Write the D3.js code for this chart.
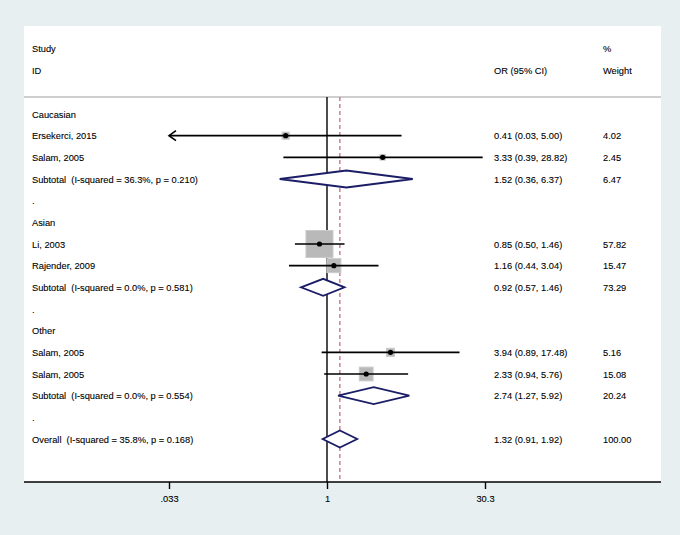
<!DOCTYPE html>
<html>
<head>
<meta charset="utf-8" />
<title></title>
<style>
html, body {
    padding: 0px;
    margin: 0px;
    background: #e8eff1;
}
svg text {
    font-family: "Liberation Sans", Arial, sans-serif;
    font-size: 9.3px;
    fill: #000;
    stroke: #000;
    stroke-width: 0.1px;
    white-space: pre;
}
</style>
</head>
<body>
<svg id="chart" width="680" height="535"></svg>
<script src="https://cdnjs.cloudflare.com/ajax/libs/d3/7.8.5/d3.min.js"></script>
<script>
!(function(){
    "use strict";

    var rowLabels = [
        "Caucasian", "Ersekerci, 2015", "Salam, 2005",
        "Subtotal  (I-squared = 36.3%, p = 0.210)", ".",
        "Asian", "Li, 2003", "Rajender, 2009",
        "Subtotal  (I-squared = 0.0%, p = 0.581)", ".",
        "Other", "Salam, 2005", "Salam, 2005",
        "Subtotal  (I-squared = 0.0%, p = 0.554)", ".",
        "Overall  (I-squared = 35.8%, p = 0.168)"
    ];
    var rowTypes = [
        "group", "study", "study", "sub", "blank",
        "group", "study", "study", "sub", "blank",
        "group", "study", "study", "sub", "blank",
        "sub"
    ];
    var orValues = [null, 0.41, 3.33, 1.52, null, null, 0.85, 1.16, 0.92, null, null, 3.94, 2.33, 2.74, null, 1.32];
    var lowerCI  = [null, 0.03, 0.39, 0.36, null, null, 0.50, 0.44, 0.57, null, null, 0.89, 0.94, 1.27, null, 0.91];
    var upperCI  = [null, 5.00, 28.82, 6.37, null, null, 1.46, 3.04, 1.46, null, null, 17.48, 5.76, 5.92, null, 1.92];
    var weights  = [null, 4.02, 2.45, 6.47, null, null, 57.82, 15.47, 73.29, null, null, 5.16, 15.08, 20.24, null, 100.00];

    var tickValues = [1 / 30.3, 1, 30.3];
    var tickLabels = [".033", "1", "30.3"];
    var overallOR = 1.32;

    var svg = d3.select("#chart");

    var x = d3.scaleLog().domain([1 / 30.3, 30.3]).range([169, 485]);
    var y = d3.scaleLinear().domain([0, rowLabels.length - 1]).range([114, 439]);
    var boxSide = d3.scaleSqrt().domain([0, 57.82]).range([0, 27]);

    var left = 24, right = 661, top = 26, axisY = 482, headY = 97;
    var colLabel = 32, colOR = 494, colW = 603;

    // panel
    svg.append("rect")
        .attr("x", left).attr("y", top)
        .attr("width", right - left).attr("height", axisY - top)
        .attr("fill", "#fff");

    // header
    svg.append("text").attr("x", colLabel).attr("y", 52).text("Study");
    svg.append("text").attr("x", colLabel).attr("y", 74).text("ID");
    svg.append("text").attr("x", colOR).attr("y", 74).text("OR (95% CI)");
    svg.append("text").attr("x", colW).attr("y", 52).text("%");
    svg.append("text").attr("x", colW).attr("y", 74).text("Weight");

    svg.append("line")
        .attr("x1", left).attr("x2", right)
        .attr("y1", headY).attr("y2", headY)
        .attr("stroke", "#cfcfcf").attr("stroke-width", 2);

    // reference lines
    svg.append("line")
        .attr("x1", x(1)).attr("x2", x(1))
        .attr("y1", headY).attr("y2", axisY)
        .attr("stroke", "#000").attr("stroke-width", 1.4);

    svg.append("line")
        .attr("x1", x(overallOR)).attr("x2", x(overallOR))
        .attr("y1", headY).attr("y2", axisY)
        .attr("stroke", "#c3707c").attr("stroke-width", 1.3)
        .attr("stroke-dasharray", "4,3");

    var rows = d3.range(rowLabels.length);

    // row labels
    svg.selectAll(".lab")
        .data(rows).enter()
        .append("text")
        .attr("class", "lab")
        .attr("x", colLabel)
        .attr("y", function(i){ return y(i) + 3.5; })
        .text(function(i){ return rowLabels[i]; });

    var withEst = rows.filter(function(i){ return orValues[i] !== null; });

    svg.selectAll(".ortxt")
        .data(withEst).enter()
        .append("text")
        .attr("x", colOR)
        .attr("y", function(i){ return y(i) + 3.5; })
        .text(function(i){
            return orValues[i].toFixed(2) + " (" + lowerCI[i].toFixed(2) + ", " + upperCI[i].toFixed(2) + ")";
        });

    svg.selectAll(".wtxt")
        .data(withEst).enter()
        .append("text")
        .attr("x", colW)
        .attr("y", function(i){ return y(i) + 3.5; })
        .text(function(i){ return weights[i].toFixed(2); });

    var studies = rows.filter(function(i){ return rowTypes[i] === "study"; });
    var subs = rows.filter(function(i){ return rowTypes[i] === "sub"; });

    var lo = x.domain()[0], hi = x.domain()[1];

    // boxes
    svg.selectAll(".box")
        .data(studies).enter()
        .append("rect")
        .attr("x", function(i){ return x(orValues[i]) - boxSide(weights[i]) / 2; })
        .attr("y", function(i){ return y(i) - boxSide(weights[i]) / 2; })
        .attr("width", function(i){ return boxSide(weights[i]); })
        .attr("height", function(i){ return boxSide(weights[i]); })
        .attr("fill", "#b9b9b9")
        .attr("stroke", "#cacaca").attr("stroke-width", 1);

    // CI lines
    svg.selectAll(".ci")
        .data(studies).enter()
        .append("line")
        .attr("x1", function(i){ return x(Math.max(lowerCI[i], lo)); })
        .attr("x2", function(i){ return x(Math.min(upperCI[i], hi)); })
        .attr("y1", function(i){ return y(i); })
        .attr("y2", function(i){ return y(i); })
        .attr("stroke", "#000").attr("stroke-width", 1.6);

    // arrows where CI is clipped
    svg.selectAll(".arrL")
        .data(studies.filter(function(i){ return lowerCI[i] < lo; })).enter()
        .append("path")
        .attr("d", function(i){
            var ax = x(lo), ay = y(i);
            return "M" + (ax + 7) + "," + (ay - 5) + "L" + ax + "," + ay + "L" + (ax + 7) + "," + (ay + 5);
        })
        .attr("fill", "none").attr("stroke", "#000").attr("stroke-width", 1.6);

    svg.selectAll(".arrR")
        .data(studies.filter(function(i){ return upperCI[i] > hi; })).enter()
        .append("path")
        .attr("d", function(i){
            var ax = x(hi), ay = y(i);
            return "M" + (ax - 7) + "," + (ay - 5) + "L" + ax + "," + ay + "L" + (ax - 7) + "," + (ay + 5);
        })
        .attr("fill", "none").attr("stroke", "#000").attr("stroke-width", 1.6);

    // point estimates
    svg.selectAll(".dot")
        .data(studies).enter()
        .append("circle")
        .attr("cx", function(i){ return x(orValues[i]); })
        .attr("cy", function(i){ return y(i); })
        .attr("r", 2.6)
        .attr("fill", "#000");

    // diamonds
    svg.selectAll(".dia")
        .data(subs).enter()
        .append("path")
        .attr("d", function(i){
            var c = y(i), h = 8.5;
            return "M" + x(lowerCI[i]) + "," + c +
                   "L" + x(orValues[i]) + "," + (c - h) +
                   "L" + x(upperCI[i]) + "," + c +
                   "L" + x(orValues[i]) + "," + (c + h) + "Z";
        })
        .attr("fill", "#fff")
        .attr("stroke", "#1b1d66").attr("stroke-width", 1.8);

    // axis
    svg.append("line")
        .attr("x1", left).attr("x2", right)
        .attr("y1", axisY).attr("y2", axisY)
        .attr("stroke", "#000").attr("stroke-width", 1.4);

    var axis = d3.axisBottom(x)
        .tickValues(tickValues)
        .tickSize(7)
        .tickPadding(6)
        .tickFormat(function(d, i){ return tickLabels[i]; });

    var g = svg.append("g")
        .attr("transform", "translate(0," + axisY + ")")
        .call(axis);
    g.select(".domain").remove();
    g.selectAll(".tick line").attr("stroke", "#000").attr("stroke-width", 1.4);
    g.selectAll(".tick text")
        .attr("font-family", "Liberation Sans, Arial, sans-serif")
        .attr("font-size", "9.3px")
        .attr("fill", "#000");

}());
</script>
</body>
</html>
